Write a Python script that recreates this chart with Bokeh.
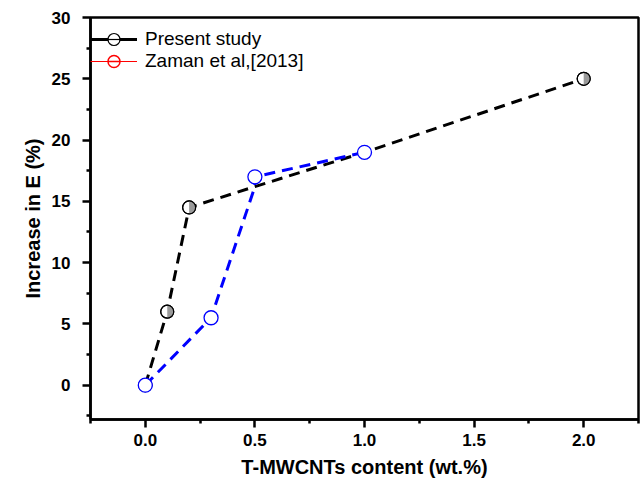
import math
from bokeh.plotting import figure
from bokeh.models import FixedTicker, Legend, LegendItem, Range1d, ColumnDataSource
from bokeh.embed import file_html
from bokeh.resources import INLINE

# Data
present_x = [0.0, 0.1, 0.2, 0.5, 1.0, 2.0]
present_y = [0.0, 6.0, 14.5, 16.2, 19.0, 25.0]
present_mark_x = [0.0, 0.1, 0.2, 2.0]
present_mark_y = [0.0, 6.0, 14.5, 25.0]

zaman_line_x = [0.0, 0.3, 0.5, 0.5, 1.0]
zaman_line_y = [0.0, 5.5, 16.2, 17.0, 19.0]
zaman_x = [0.0, 0.3, 0.5, 1.0]
zaman_y = [0.0, 5.5, 17.0, 19.0]

x_ticks = [0.0, 0.5, 1.0, 1.5, 2.0]
x_minor = [-0.25, 0.25, 0.75, 1.25, 1.75, 2.25]
y_ticks = [0, 5, 10, 15, 20, 25, 30]
y_minor = [-2.5, 2.5, 7.5, 12.5, 17.5, 22.5, 27.5]

FONT = "Liberation Sans"

p = figure(width=641, height=484, output_backend="svg", toolbar_location=None,
           x_range=Range1d(-0.25, 2.25), y_range=Range1d(-2.8, 30),
           min_border_left=90, min_border_right=3, min_border_top=17, min_border_bottom=65)
p.grid.visible = False
p.outline_line_color = "black"
p.outline_line_width = 2.5
p.background_fill_color = "white"
p.border_fill_color = "white"

for ax in (p.xaxis[0], p.yaxis[0]):
    ax.axis_line_width = 2.5
    ax.major_tick_line_width = 2.5
    ax.minor_tick_line_width = 2.5
    ax.major_tick_out = 8
    ax.major_tick_in = 0
    ax.minor_tick_out = 4
    ax.minor_tick_in = 0
    ax.major_label_text_font = FONT
    ax.major_label_text_font_style = "bold"
    ax.major_label_text_font_size = "17px"
    ax.major_label_text_color = "black"
    ax.axis_label_text_font = FONT
    ax.axis_label_text_font_style = "bold"
    ax.axis_label_text_font_size = "20px"
    ax.axis_label_text_color = "black"

p.xaxis.ticker = FixedTicker(ticks=x_ticks, minor_ticks=x_minor)
p.yaxis.ticker = FixedTicker(ticks=y_ticks, minor_ticks=y_minor)
p.xaxis.major_label_overrides = {t: f"{t:.1f}" for t in x_ticks}
p.xaxis.axis_label = "T-MWCNTs content (wt.%)"
p.yaxis.axis_label = "Increase in E (%)"
p.xaxis.major_label_standoff = 6
p.yaxis.major_label_standoff = 12
p.xaxis.axis_label_standoff = 7
p.yaxis.axis_label_standoff = 5

# Lines
p.line(present_x, present_y, line_color="black", line_width=3, line_dash="11 7")
p.line(zaman_line_x, zaman_line_y, line_color="#0000ff", line_width=3, line_dash="11 7")

# Present study markers (half-filled circles)
p.scatter(present_mark_x, present_mark_y, marker="circle", size=13,
          fill_color="white", line_color="black", line_width=1.2)
p.wedge(present_mark_x, present_mark_y, radius=6.5, radius_units="screen",
        start_angle=-math.pi / 2, end_angle=math.pi / 2,
        fill_color="#9a9a9a", line_color=None)
p.scatter(present_mark_x, present_mark_y, marker="circle", size=13,
          fill_color=None, line_color="black", line_width=1.2)

# Zaman markers
p.scatter(zaman_x, zaman_y, marker="circle", size=14,
          fill_color="white", line_color="#0000ff", line_width=1.3)

# Legend proxy renderers (a single NaN point: nothing drawn in the plot)
nan = float("nan")
proxy = ColumnDataSource(data=dict(x=[nan], y=[nan]))
l1 = p.line("x", "y", source=proxy, line_color="black", line_width=3)
m1 = p.scatter("x", "y", source=proxy, marker="circle",
               fill_color="white", line_color="black", line_width=1.2)
d1 = p.scatter("x", "y", source=proxy, marker="dash", angle=math.pi / 2,
               line_color="black", line_width=1.2)
l2 = p.line("x", "y", source=proxy, line_color="red", line_width=1)
m2 = p.scatter("x", "y", source=proxy, marker="circle",
               fill_color="white", line_color="red", line_width=1.5)
d2 = p.scatter("x", "y", source=proxy, marker="dash",
               line_color="red", line_width=1.5)

common = dict(margin=0, padding=5, spacing=0, glyph_width=47, glyph_height=30,
              label_standoff=8, label_text_font=FONT, label_text_font_size="19px",
              label_text_color="black", border_line_color=None, background_fill_alpha=0)
legend1 = Legend(items=[LegendItem(label="Present study", renderers=[l1, m1, d1])],
                 location=(0, 365), **common)
legend2 = Legend(items=[LegendItem(label="Zaman et al,[2013]", renderers=[l2, m2, d2])],
                 location=(0, 343), **common)
p.add_layout(legend1)
p.add_layout(legend2)

open("out.html", "w").write(file_html(p, INLINE))
